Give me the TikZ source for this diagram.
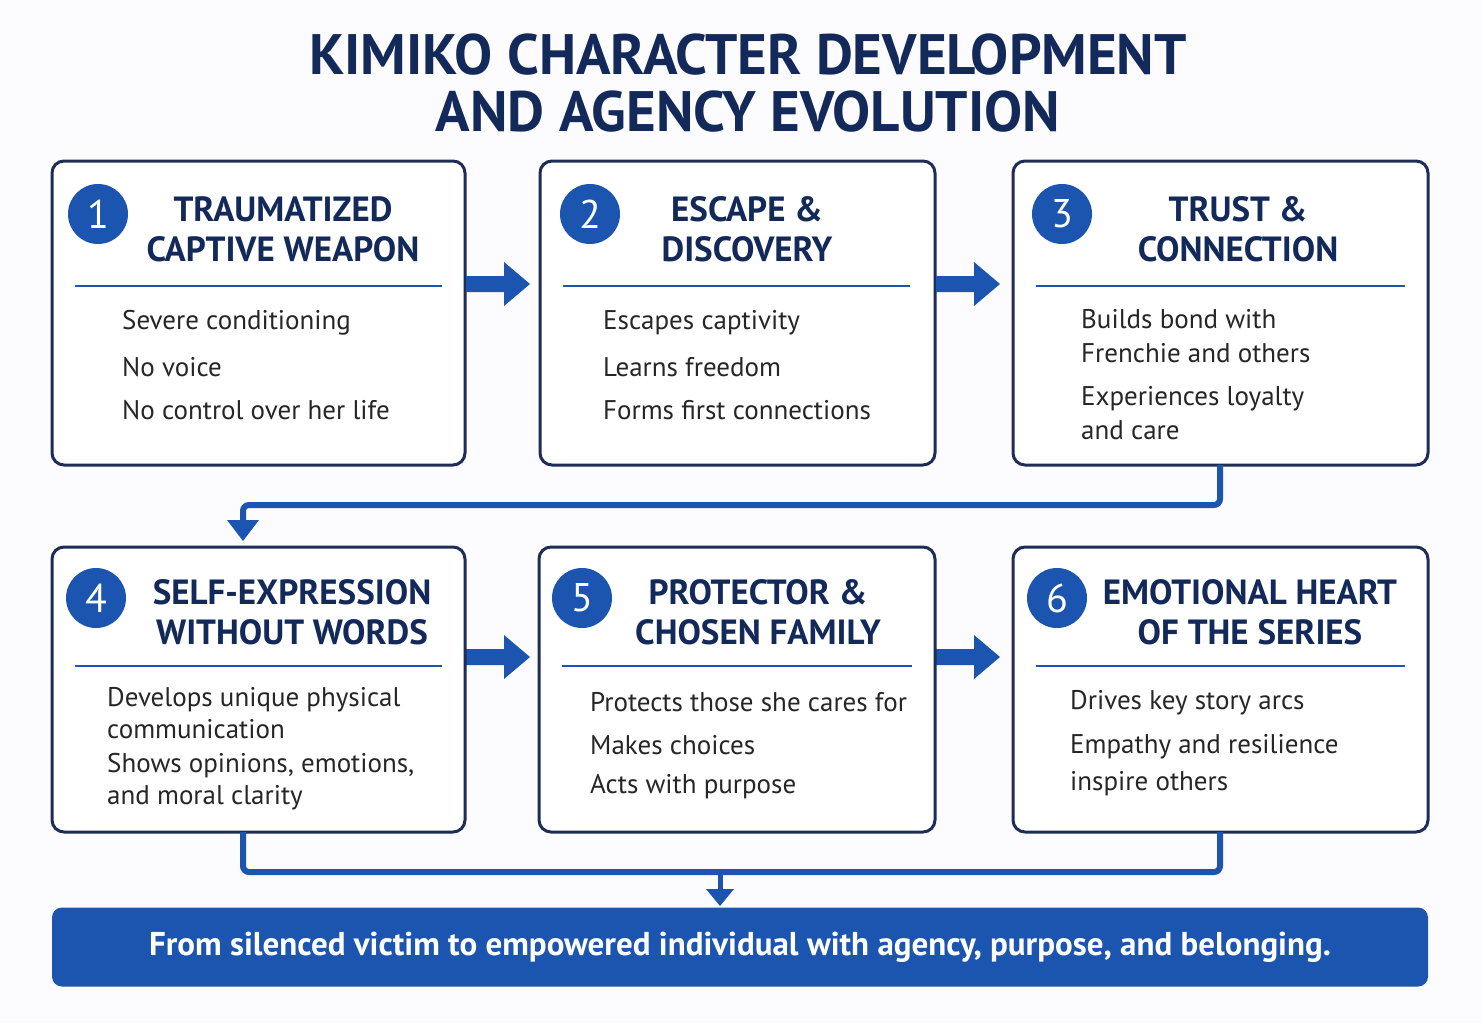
\documentclass[tikz,border=0pt]{standalone}
\usepackage{fontspec}
\setmainfont{PT Sans}
\definecolor{navy}{HTML}{13295A}
\definecolor{blu}{HTML}{1B55B0}
\definecolor{bord}{HTML}{1E2D55}
\begin{document}
\begin{tikzpicture}[x=1pt,y=-1pt,
 box/.style={draw=bord,line width=3pt,rounded corners=12pt,fill=white},
 num/.style={circle,fill=blu,minimum size=60pt,inner sep=0,text=white,font=\fontsize{40}{40}\selectfont},
 head/.style={font=\bfseries\fontsize{35}{40}\selectfont,text=navy,align=center},
 txt/.style={font=\fontsize{27}{32}\selectfont,text=black!85,anchor=west,align=left,inner sep=0},
 sep/.style={draw=blu,line width=2pt},
 con/.style={draw=blu,line width=6pt,rounded corners=6pt}]
\fill[white!97!blue!40!white] (0,0) rectangle (1482,1023);
\useasboundingbox (0,0) rectangle (1482,1023);
\node[font=\bfseries\fontsize{57}{57}\selectfont,text=navy,align=center] (title) at (748,83) {KIMIKO CHARACTER DEVELOPMENT\\AND AGENCY EVOLUTION};
% row 1
\draw[box] (52,161) rectangle (465,465);
\draw[box] (540,161) rectangle (935,465);
\draw[box] (1013,161) rectangle (1428,465);
\coordinate (b3s) at (1220,465);
\node[num] (n1) at (98,214) {1};
\node[num] (n2) at (590,214) {2};
\node[num] (n3) at (1062,214) {3};
\node[head] (h1) at (283,229) {TRAUMATIZED\\CAPTIVE WEAPON};
\node[head] (h2) at (747,229) {ESCAPE \&\\DISCOVERY};
\node[head] (h3) at (1238,229) {TRUST \&\\CONNECTION};
\draw[sep] (75,286) -- (442,286);
\draw[sep] (563,286) -- (910,286);
\draw[sep] (1036,286) -- (1405,286);
\node[txt] (t11) at (122,323) {Severe conditioning};
\node[txt] (t12) at (122,367) {No voice};
\node[txt] (t13) at (122,410) {No control over her life};
\node[txt] (t21) at (603,323) {Escapes captivity};
\node[txt] (t22) at (603,367) {Learns freedom};
\node[txt] (t23) at (603,410) {Forms first connections};
\node[txt,font=\fontsize{27}{34}\selectfont] (t31) at (1081,336) {Builds bond with\\Frenchie and others};
\node[txt,font=\fontsize{27}{34}\selectfont] (t32) at (1081,413) {Experiences loyalty\\and care};
\foreach \x/\y in {466/284, 936/284, 466/657, 936/657}
  \fill[blu] (\x,\y-8) -- (\x+38,\y-8) -- (\x+38,\y-22) -- (\x+64,\y) -- (\x+38,\y+22) -- (\x+38,\y+8) -- (\x,\y+8) -- cycle;
% row 2
\draw[box] (52,547) rectangle (465,832);
\draw[box] (539,547) rectangle (935,832);
\draw[box] (1013,547) rectangle (1428,832);
\node[num] (n4) at (96,598) {4};
\node[num] (n5) at (582,598) {5};
\node[num] (n6) at (1057,598) {6};
\node[head] (h4) at (292,612) {SELF-EXPRESSION\\WITHOUT WORDS};
\node[head] (h5) at (758,612) {PROTECTOR \&\\CHOSEN FAMILY};
\node[head] (h6) at (1250,612) {EMOTIONAL HEART\\OF THE SERIES};
\draw[sep] (75,666) -- (442,666);
\draw[sep] (562,666) -- (912,666);
\draw[sep] (1036,666) -- (1405,666);
\node[txt] (t41) at (107,713) {Develops unique physical\\communication};
\node[txt] (t42) at (107,782) {Shows opinions, emotions,\\and moral clarity};
\node[txt] (t51) at (590,702) {Protects those she cares for};
\node[txt] (t52) at (590,745) {Makes choices};
\node[txt] (t53) at (590,787) {Acts with purpose};
\node[txt] (t61) at (1070,703) {Drives key story arcs};
\node[txt,font=\fontsize{27}{37}\selectfont] (t62) at (1070,765) {Empathy and resilience\\inspire others};
% connectors
\draw[con] (b3s) -- (1220,505) -- (243,505) -- (243,522);
\fill[blu] (227,520) -- (259,520) -- (243,541) -- cycle;
\coordinate (b4s) at (243,832); \coordinate (b6s) at (1220,832);
\draw[con] (b4s) -- (243,872) -- (1220,872) -- (b6s);
\draw[blu,line width=5pt] (720,872) -- (720,892);
\fill[blu] (706,889) -- (734,889) -- (720,906) -- cycle;
% banner
\node[fill=blu,rounded corners=10pt,minimum width=1376pt,minimum height=79pt,text=white,font=\bfseries\fontsize{33}{36}\selectfont] (ban) at (740,947) {From silenced victim to empowered individual with agency, purpose, and belonging.};
\end{tikzpicture}
\end{document}
